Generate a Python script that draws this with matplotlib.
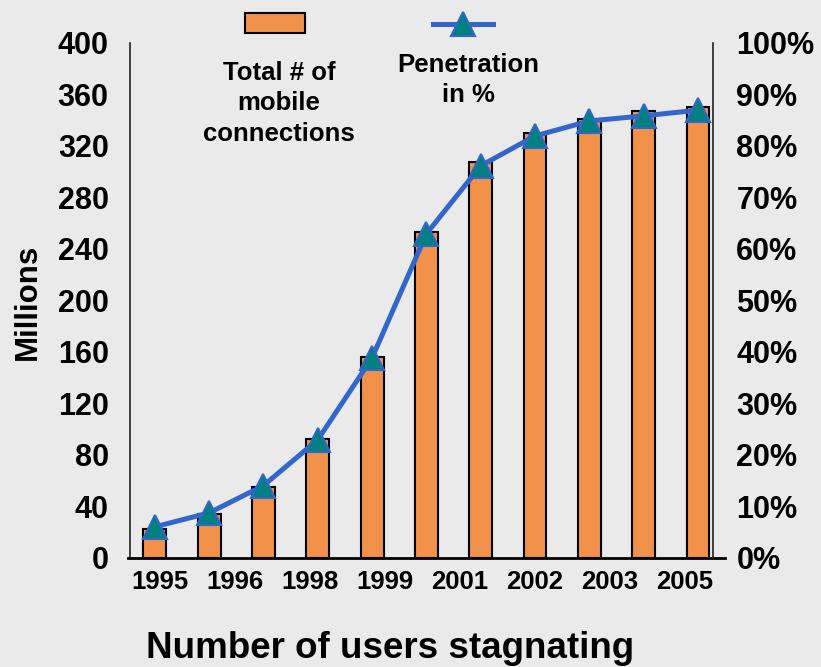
import numpy as np
import matplotlib.pyplot as plt
from matplotlib.patches import Rectangle
from matplotlib.lines import Line2D
from matplotlib.ticker import PercentFormatter

plt.rcParams["font.family"] = ["Liberation Sans", "DejaVu Sans"]
plt.rcParams["font.weight"] = "bold"

# data
year_labels = ["1995", "1996", "1998", "1999", "2001", "2002", "2003", "2005"]
connections = [22, 34, 55, 92, 156, 253, 307, 330, 341, 347, 350]  # millions
penetration = [6.0, 8.7, 14.0, 22.9, 38.8, 62.9, 76.1, 81.9, 84.8, 85.8, 86.9]  # %

bg = "#EAEAEA"
orange = "#F2914A"
blue = "#3366CC"
teal = "#008080"

W, H = 821, 667
fig = plt.figure(figsize=(W / 100, H / 100), dpi=100, facecolor=bg)
ax = fig.add_axes([129.5 / W, 1 - 557.7 / H, (712.7 - 129.5) / W, (557.7 - 42.7) / H])
ax.set_facecolor(bg)

x = np.arange(len(connections))
ax.bar(x, connections, width=0.42, color=orange, edgecolor="black", linewidth=1.5)
ax.set_xlim(-0.466, 10.27)
ax.set_ylim(0, 400)
ax.set_yticks(np.arange(0, 401, 40))
ax.set_xticks(np.linspace(0.1, 9.76, len(year_labels)))
ax.set_xticklabels(year_labels)
ax.tick_params(axis="y", length=0, labelsize=22, pad=15)
ax.tick_params(axis="x", length=0, labelsize=18.5, pad=9)

ax2 = ax.twinx()
ax2.plot(x, penetration, color=blue, lw=3.6, marker="^", ms=17,
         mfc=teal, mec=blue, mew=1.5)
ax2.set_ylim(0, 100)
ax2.set_yticks(np.arange(0, 101, 10))
ax2.yaxis.set_major_formatter(PercentFormatter(xmax=100, decimals=0))
ax2.tick_params(axis="y", length=0, labelsize=22, pad=17)

for s in ["top", "right"]:
    ax.spines[s].set_visible(False)
for s in ["top", "left", "bottom"]:
    ax2.spines[s].set_visible(False)
ax.spines["left"].set_color("#222222")
ax.spines["left"].set_linewidth(1.2)
ax2.spines["right"].set_color("#222222")
ax2.spines["right"].set_linewidth(1.2)
ax.spines["bottom"].set_linewidth(2)
ax.spines["bottom"].set_bounds(-0.5, 10.5)

# legend drawn above the plot
fig.patches.append(Rectangle((245 / W, 1 - 33.3 / H), 60 / W, 20 / H,
                             transform=fig.transFigure, facecolor=orange,
                             edgecolor="black", linewidth=1.5))
fig.add_artist(Line2D([432.7 / W, 493.3 / W], [1 - 23.5 / H] * 2,
                      transform=fig.transFigure, color=blue, lw=3.6))
fig.add_artist(Line2D([463 / W], [1 - 23.5 / H], transform=fig.transFigure,
                      marker="^", ms=17, mfc=teal, mec=blue, mew=1.5))
fig.text(279 / W, 1 - 61 / H, "Total # of\nmobile\nconnections", ha="center",
         va="top", fontsize=18.5, fontweight="bold", linespacing=1.33)
fig.text(468 / W, 1 - 53 / H, "Penetration\nin %", ha="center",
         va="top", fontsize=18.5, fontweight="bold", linespacing=1.33)

fig.text(28 / W, 1 - 302 / H, "Millions", rotation=90, ha="center",
         va="center", fontsize=22.5, fontweight="bold")
fig.text(390.5 / W, 1 - 649 / H, "Number of users stagnating", ha="center",
         va="center", fontsize=26.5, fontweight="bold")

fig.savefig("out.png", dpi=100, facecolor=bg)
